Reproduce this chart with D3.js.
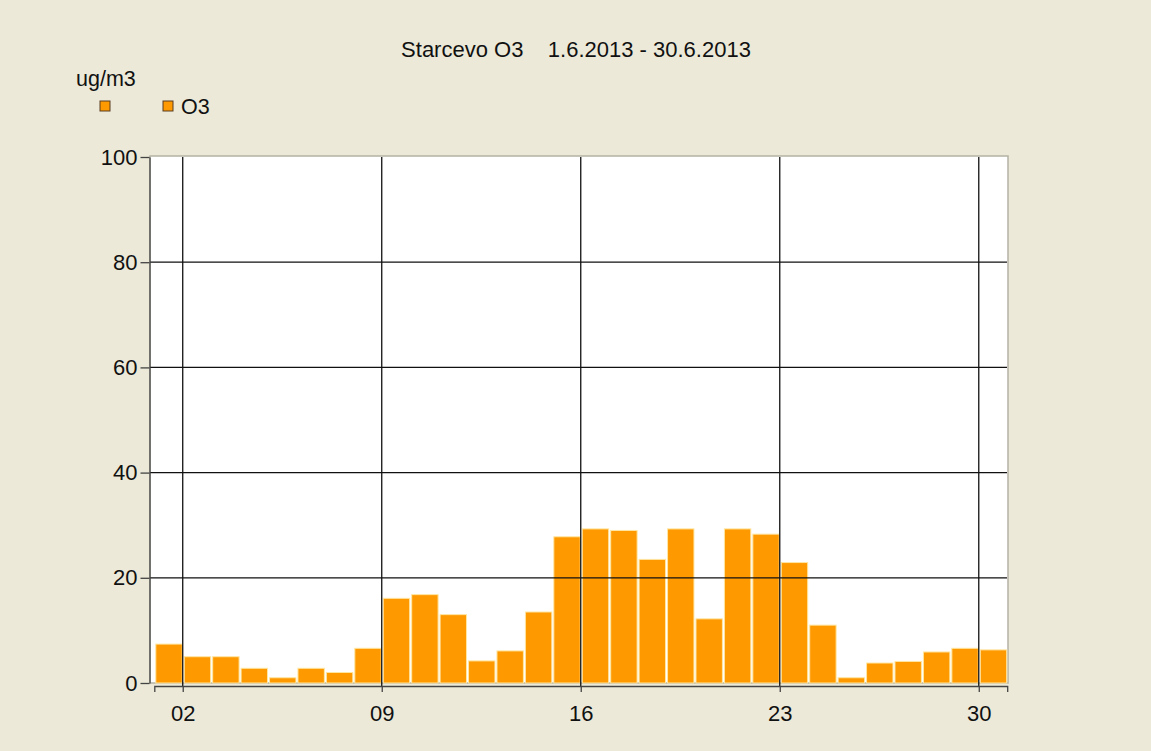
<!DOCTYPE html>
<html lang="en">
<head>
    <meta charset="UTF-8">
    <title>Starcevo O3</title>
    <script src="https://d3js.org/d3.v7.min.js"></script>
    <style>
        body {
            margin: 0;
            background: #ece9d8;
        }
        svg text {
            font-family: "Liberation Sans", Arial, sans-serif;
            fill: #111;
        }
        .axis text {
            font-size: 22px;
        }
        .axis path, .axis line {
            stroke: #444;
            stroke-width: 1.3;
        }
        .grid line {
            stroke: #111;
            stroke-width: 1.3;
        }
        .bar {
            fill: #ff9900;
            stroke: #ffe7a3;
            stroke-width: 1;
        }
    </style>
</head>
<body>
    <div id="chart"></div>
    <script>
        // daily O3 means, June 2013
        const days = d3.range(1, 31);
        const o3 = [7.4, 5.0, 5.0, 2.8, 1.0, 2.8, 2.0, 6.6, 16.1, 16.8,
                    13.0, 4.2, 6.1, 13.5, 27.8, 29.3, 29.0, 23.5, 29.3, 12.2,
                    29.3, 28.3, 22.9, 11.0, 1.0, 3.8, 4.1, 5.9, 6.6, 6.3];
        const yTicks = [0, 20, 40, 60, 80, 100];
        const xTickDays = [2, 9, 16, 23, 30];

        const width = 1151, height = 751;
        const plot = {left: 150, right: 1008, top: 157, bottom: 683};

        const svg = d3.select("#chart").append("svg")
            .attr("width", width)
            .attr("height", height);

        svg.append("rect")
            .attr("width", width)
            .attr("height", height)
            .attr("fill", "#ece9d8");

        const day = d => new Date(2013, 5, d);

        const x = d3.scaleTime()
            .domain([day(1), day(31)])
            .range([154.3, 1007.2]);
        const y = d3.scaleLinear()
            .domain([0, 100])
            .range([plot.bottom, plot.top]);

        // plot background with a soft frame
        svg.append("rect")
            .attr("x", plot.left)
            .attr("y", plot.top - 1)
            .attr("width", plot.right - plot.left)
            .attr("height", plot.bottom - plot.top + 1)
            .attr("fill", "#fff")
            .attr("stroke", "#b4b2a4")
            .attr("stroke-width", 1.5);

        // bars
        svg.selectAll(".bar")
            .data(days)
          .enter().append("rect")
            .attr("class", "bar")
            .attr("x", d => x(day(d)) + 1.5)
            .attr("width", d => x(day(d + 1)) - x(day(d)) - 2)
            .attr("y", (d, i) => y(o3[i]))
            .attr("height", (d, i) => y(0) - y(o3[i]));

        // grid lines on top of the bars
        const grid = svg.append("g").attr("class", "grid");
        grid.selectAll(".h")
            .data(yTicks.filter(v => v > 0 && v < 100))
          .enter().append("line")
            .attr("x1", plot.left)
            .attr("x2", plot.right - 1)
            .attr("y1", d => y(d))
            .attr("y2", d => y(d));
        grid.selectAll(".v")
            .data(xTickDays)
          .enter().append("line")
            .attr("x1", d => x(day(d)))
            .attr("x2", d => x(day(d)))
            .attr("y1", plot.top)
            .attr("y2", 686);

        // axes
        svg.append("g")
            .attr("class", "axis")
            .attr("transform", "translate(149.5,0)")
            .call(d3.axisLeft(y).tickValues(yTicks).tickSize(9).tickSizeOuter(0).tickPadding(3));

        svg.append("g")
            .attr("class", "axis")
            .attr("transform", "translate(0,686)")
            .call(d3.axisBottom(x)
                .tickValues(xTickDays.map(day))
                .tickFormat(d3.timeFormat("%d"))
                .tickSize(6)
                .tickSizeOuter(6)
                .tickPadding(13));

        // title
        svg.append("text")
            .attr("x", 576)
            .attr("y", 57)
            .attr("text-anchor", "middle")
            .style("font-size", "22px")
            .style("white-space", "pre")
            .text("Starcevo O3    1.6.2013 - 30.6.2013");

        // unit label and legend
        svg.append("text")
            .attr("x", 76)
            .attr("y", 86)
            .style("font-size", "21.5px")
            .text("ug/m3");

        [100, 163].forEach(px => {
            svg.append("rect")
                .attr("x", px)
                .attr("y", 101)
                .attr("width", 10)
                .attr("height", 10)
                .attr("fill", "#ff9900")
                .attr("stroke", "#5a3c20")
                .attr("stroke-width", 1);
        });
        svg.append("text")
            .attr("x", 181)
            .attr("y", 113.5)
            .style("font-size", "21.5px")
            .text("O3");
    </script>
</body>
</html>
